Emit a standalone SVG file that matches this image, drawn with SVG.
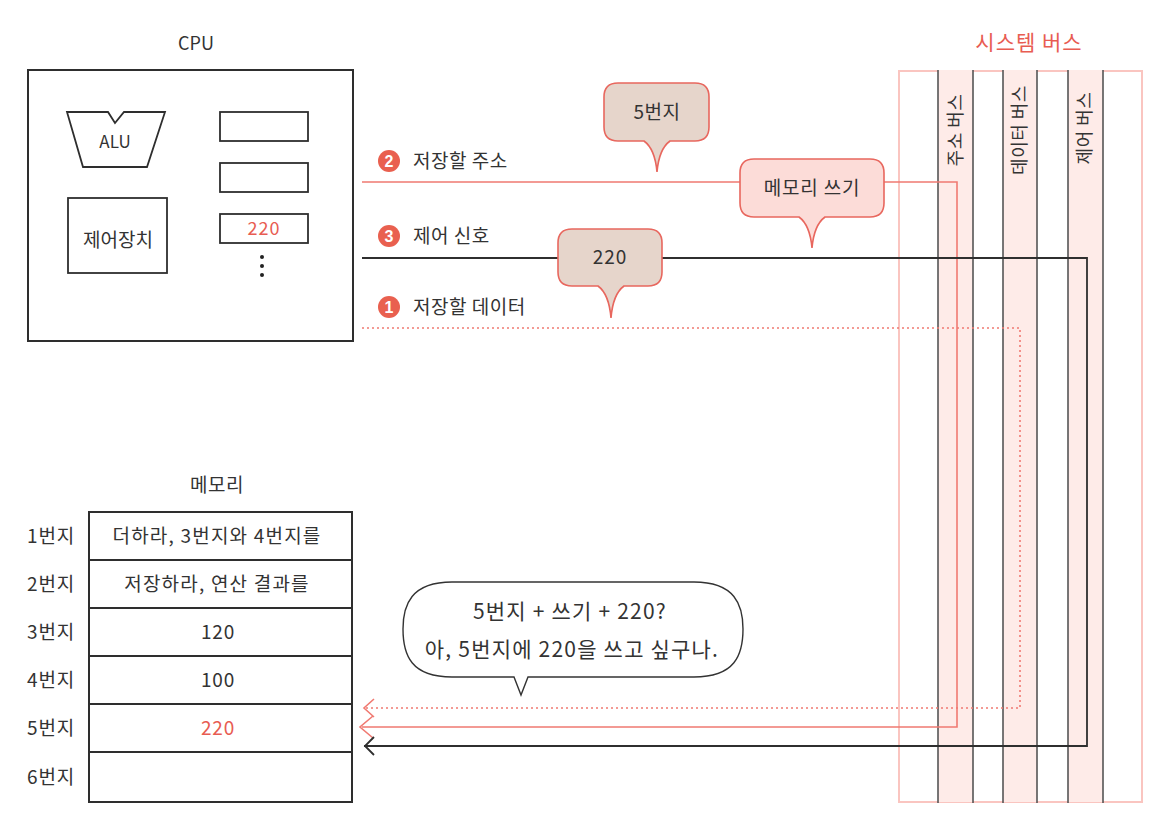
<svg xmlns="http://www.w3.org/2000/svg" width="1164" height="828" viewBox="0 0 1164 828">
<style>
  text { font-family: "Noto Sans CJK KR", "Noto Sans", sans-serif; fill: #333; }
  .lab { font-size: 19px; letter-spacing: 0.5px; }
  .cell { font-size: 19px; letter-spacing: 0.8px; }
  .big { font-size: 21px; letter-spacing: 1.2px; }
  .bus { font-size: 18px; letter-spacing: 0.5px; }
  .mid { text-anchor: middle; }
  .red { fill: #e85c52; }
  .box { fill: #fff; stroke: #2e2e2e; stroke-width: 2; }
  .inner { fill: none; stroke: #2e2e2e; stroke-width: 1.8; }
  .redline { fill: none; stroke: #f07a72; stroke-width: 1.6; }
  .dotline { fill: none; stroke: #f07a72; stroke-width: 1.6; stroke-dasharray: 2 3; }
  .blkline { fill: none; stroke: #2f2f2f; stroke-width: 1.8; }
  .bub { fill: #e6d5cb; stroke: #e8675e; stroke-width: 1.6; }
  .bubpink { fill: #fcdcd8; stroke: #e8675e; stroke-width: 1.6; }
  .num { fill: #e9604f; }
  .numt { fill: #fff; font-family: "Liberation Sans", sans-serif; font-weight: bold; font-size: 16px; text-anchor: middle; }
  .col { fill: #feebe8; stroke: none; }
  .colb { stroke: #555; stroke-width: 1.6; }
</style>

<!-- System bus -->
<g id="system-bus">
  <text class="red mid" x="1029" y="50" style="font-size:21px;letter-spacing:1px">시스템 버스</text>
  <rect x="899" y="71" width="243" height="731" fill="none" stroke="#fac5c0" stroke-width="2"/>
  <g id="address-bus">
    <rect class="col" x="938" y="70" width="35" height="732"/>
    <line class="colb" x1="938" y1="70" x2="938" y2="803"/>
    <line class="colb" x1="973" y1="70" x2="973" y2="803"/>
    <text class="bus mid" transform="translate(956,130) rotate(-90)" dy="0.35em">주소 버스</text>
  </g>
  <g id="data-bus">
    <rect class="col" x="1003" y="70" width="34" height="732"/>
    <line class="colb" x1="1003" y1="70" x2="1003" y2="803"/>
    <line class="colb" x1="1037" y1="70" x2="1037" y2="803"/>
    <text class="bus mid" transform="translate(1020,130) rotate(-90)" dy="0.35em">데이터 버스</text>
  </g>
  <g id="control-bus">
    <rect class="col" x="1068" y="70" width="35" height="732"/>
    <line class="colb" x1="1068" y1="70" x2="1068" y2="803"/>
    <line class="colb" x1="1103" y1="70" x2="1103" y2="803"/>
    <text class="bus mid" transform="translate(1085,128) rotate(-90)" dy="0.35em">제어 버스</text>
  </g>
</g>

<!-- CPU -->
<g id="cpu">
  <text class="mid" x="196" y="50" style="font-size:18px">CPU</text>
  <rect class="box" x="28" y="70" width="325" height="271"/>
  <g id="alu">
    <path class="inner" d="M67,112 H108 L115,123 L124,112 H165 L147,167 H83 Z"/>
    <text class="mid" x="115" y="148" style="font-size:17px">ALU</text>
  </g>
  <g id="control-unit">
    <rect class="inner" x="68" y="198" width="99" height="75"/>
    <text class="mid" x="118" y="247" style="font-size:19px">제어장치</text>
  </g>
  <g id="registers">
    <rect class="inner" x="220" y="112" width="88" height="29"/>
    <rect class="inner" x="220" y="163" width="88" height="29"/>
    <rect class="inner" x="220" y="214" width="88" height="29"/>
    <text class="mid red" x="264" y="235" style="font-size:18px;letter-spacing:1px">220</text>
    <circle cx="262" cy="257" r="2" fill="#222"/>
    <circle cx="262" cy="266" r="2" fill="#222"/>
    <circle cx="262" cy="275" r="2" fill="#222"/>
  </g>
</g>

<!-- Connectors -->
<g id="connectors">
  <path class="redline" d="M362,182 H957 V727 H362"/>
  <path class="redline" d="M373,716 L360,727 L373,738"/>
  <path class="blkline" d="M362,258 H1087 V746 H364"/>
  <path class="blkline" d="M374,737 L365,746 L374,755"/>
  <path class="dotline" d="M362,328 H1020 V708 H364"/>
  <path class="redline" d="M374,699 L364,708 L374,717"/>
</g>

<!-- Line labels -->
<g id="label-address">
  <circle class="num" cx="389" cy="161" r="11"/>
  <text class="numt" x="389" y="167">2</text>
  <text class="lab" x="413" y="168">저장할 주소</text>
</g>
<g id="label-control">
  <circle class="num" cx="389" cy="236" r="11"/>
  <text class="numt" x="389" y="242">3</text>
  <text class="lab" x="413" y="243">제어 신호</text>
</g>
<g id="label-data">
  <circle class="num" cx="389" cy="307" r="11"/>
  <text class="numt" x="389" y="313">1</text>
  <text class="lab" x="413" y="314">저장할 데이터</text>
</g>

<!-- Bubbles -->
<g id="bubble-address">
  <path class="bub" d="M618,83 H695 Q709,83 709,97 V127 Q709,141 695,141 H670 Q659,149 657,172 Q655,149 644,141 H618 Q604,141 604,127 V97 Q604,83 618,83 Z"/>
  <text class="mid" x="657" y="119" style="font-size:19px;letter-spacing:0.5px">5번지</text>
</g>
<g id="bubble-write">
  <path class="bubpink" d="M754,159 H870 Q884,159 884,173 V203 Q884,217 870,217 H825 Q814,225 812,248 Q810,225 799,217 H754 Q740,217 740,203 V173 Q740,159 754,159 Z"/>
  <text class="mid" x="812" y="195" style="font-size:19px;letter-spacing:0.8px">메모리 쓰기</text>
</g>
<g id="bubble-data">
  <path class="bub" d="M572,229 H648 Q662,229 662,243 V272 Q662,286 648,286 H624 Q613,294 611,318 Q609,294 598,286 H572 Q558,286 558,272 V243 Q558,229 572,229 Z"/>
  <text class="mid" x="610" y="264" style="font-size:19px;letter-spacing:1px">220</text>
</g>

<!-- Memory -->
<g id="memory">
  <text class="mid" x="217" y="492" style="font-size:19px;letter-spacing:0.5px">메모리</text>
  <rect class="box" x="89" y="512" width="263" height="290"/>
  <line class="inner" x1="89" y1="560" x2="352" y2="560"/>
  <line class="inner" x1="89" y1="608" x2="352" y2="608"/>
  <line class="inner" x1="89" y1="656" x2="352" y2="656"/>
  <line class="inner" x1="89" y1="704" x2="352" y2="704"/>
  <line class="inner" x1="89" y1="752" x2="352" y2="752"/>
  <text class="cell mid" x="51" y="543">1번지</text>
  <text class="cell mid" x="51" y="591">2번지</text>
  <text class="cell mid" x="51" y="639">3번지</text>
  <text class="cell mid" x="51" y="687">4번지</text>
  <text class="cell mid" x="51" y="735">5번지</text>
  <text class="cell mid" x="51" y="784">6번지</text>
  <text class="cell mid" x="217" y="543" style="letter-spacing:1.2px">더하라, 3번지와 4번지를</text>
  <text class="cell mid" x="217" y="591" style="letter-spacing:1.2px">저장하라, 연산 결과를</text>
  <text class="cell mid" x="218" y="639">120</text>
  <text class="cell mid" x="218" y="687">100</text>
  <text class="cell mid red" x="218" y="735">220</text>
</g>

<!-- Speech bubble -->
<g id="speech">
  <path d="M452,582 H694 C735,582 743,605 743,629 C743,655 735,677 694,677 H528 L521,695 L514,677 H452 C411,677 403,655 403,629 C403,605 411,582 452,582 Z" fill="#fff" stroke="#333" stroke-width="1.4"/>
  <text class="big mid" x="570" y="619">5번지 + 쓰기 + 220?</text>
  <text class="big mid" x="572" y="657">아, 5번지에 220을 쓰고 싶구나.</text>
</g>
</svg>
